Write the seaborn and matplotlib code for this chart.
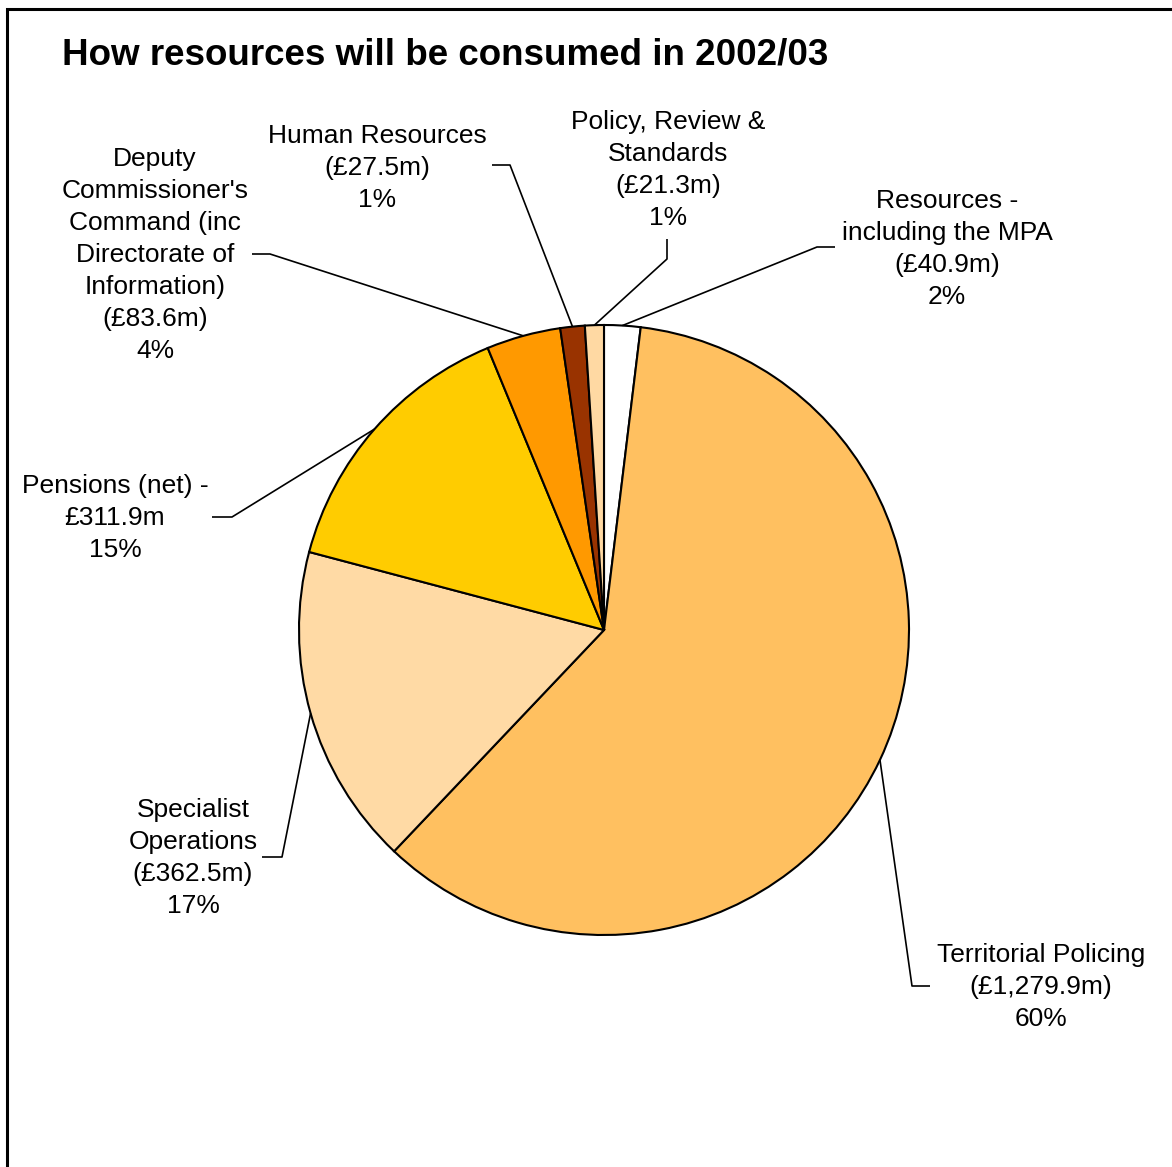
import numpy as np
import matplotlib
matplotlib.use("Agg")
import matplotlib.pyplot as plt
from matplotlib.patches import Rectangle
import seaborn as sns

# Budget split, listed clockwise from 12 o'clock
categories = [
    "Resources -\nincluding the MPA",
    "Territorial Policing",
    "Specialist\nOperations",
    "Pensions (net) -",
    "Deputy\nCommissioner's\nCommand (inc\nDirectorate of\nInformation)",
    "Human Resources",
    "Policy, Review &\nStandards",
]
amounts = [40.9, 1279.9, 362.5, 311.9, 83.6, 27.5, 21.3]   # £m
amount_text = ["(£40.9m)", "(£1,279.9m)", "(£362.5m)", "£311.9m",
               "(£83.6m)", "(£27.5m)", "(£21.3m)"]
percent_text = ["2%", "60%", "17%", "15%", "4%", "1%", "1%"]
colors = ["#FFFFFF", "#FFC060", "#FFDAA5", "#FFCC00", "#FF9900", "#993300", "#FFD9A3"]

W, H = 1172, 1167
sns.set_theme(style="white")
plt.rcParams["font.family"] = ["Liberation Sans", "DejaVu Sans"]

fig = plt.figure(figsize=(W / 100, H / 100), dpi=100)
ax = fig.add_axes([0, 0, 1, 1])
ax.set_xlim(0, W)
ax.set_ylim(0, H)
ax.set_aspect("equal")
ax.axis("off")


def px(x, y):
    return x, H - y


cx, cy = px(604, 630)
R = 305
wedges, _ = ax.pie(amounts, colors=sns.color_palette(colors), startangle=90,
                   counterclock=False, center=(cx, cy), radius=R,
                   wedgeprops=dict(edgecolor="black", linewidth=1.5))
ax.set_xlim(0, W)
ax.set_ylim(0, H)

# label placement: text centre, elbow of leader, end of leader near text
layout = [
    dict(text=(947, 249), elbow=(817, 247), end=(835, 247)),
    dict(text=(1041, 987), elbow=(912, 986), end=(930, 986)),
    dict(text=(193, 858), elbow=(282, 857), end=(262, 857)),
    dict(text=(115, 518), elbow=(232, 517), end=(212, 517)),
    dict(text=(155, 255), elbow=(270, 254), end=(252, 254)),
    dict(text=(377, 168), elbow=(510, 165), end=(492, 165)),
    dict(text=(668, 170), elbow=(667, 259), end=(667, 239)),
]

for w, cat, amt, pct, lay in zip(wedges, categories, amount_text, percent_text, layout):
    mid = np.deg2rad((w.theta1 + w.theta2) / 2)
    ax_, ay_ = cx + R * np.cos(mid), cy + R * np.sin(mid)
    ex, ey = px(*lay["elbow"])
    tx, ty = px(*lay["end"])
    ax.plot([ax_, ex, tx], [ay_, ey, ty], color="black", linewidth=1.2,
            solid_capstyle="butt", zorder=3)
    lx, ly = px(*lay["text"])
    ax.text(lx, ly, f"{cat}\n{amt}\n{pct}", ha="center", va="center",
            fontsize=19, linespacing=1.42, color="black")

ax.text(*px(62, 55), "How resources will be consumed in 2002/03", ha="left",
        va="center", fontsize=26.5, fontweight="bold", color="black")

fig.add_artist(Rectangle((7 / W, -0.1), 1.2, (H - 9) / H + 0.1,
                         transform=fig.transFigure, fill=False,
                         edgecolor="black", linewidth=2.2))

fig.savefig("out.png", dpi=100, facecolor="white")
